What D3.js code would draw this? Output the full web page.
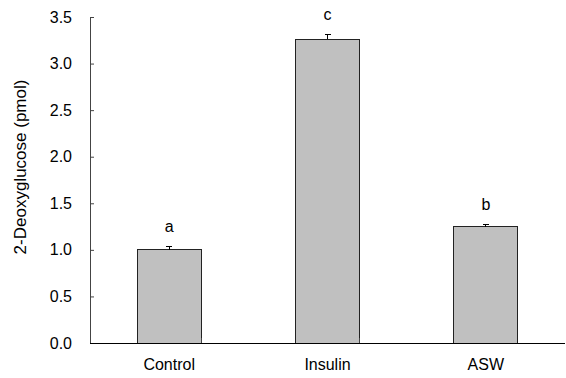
<!DOCTYPE html>
<html>
<head>
<meta charset="utf-8">
<script src="https://cdn.jsdelivr.net/npm/d3@7"></script>
<style>
  body { margin: 0; background: #fff; }
  text { font-family: 'Liberation Sans', Arial, sans-serif; fill: #000; }
</style>
</head>
<body>
<div id="chart"></div>
<script>
const categories = ['Control', 'Insulin', 'ASW']
const means = [1.0, 3.26, 1.25]
const errors = [0.04, 0.055, 0.027]
const letters = ['a', 'c', 'b']
const yTicks = [0, 0.5, 1.0, 1.5, 2.0, 2.5, 3.0, 3.5]

const width = 566
const height = 378
const margin = { top: 17, right: 1, bottom: 35, left: 90 }
const innerW = width - margin.left - margin.right
const innerH = height - margin.top - margin.bottom

const svg = d3.select('#chart')
  .append('svg')
  .attr('width', width)
  .attr('height', height)

const g = svg.append('g')
  .attr('transform', `translate(${margin.left}, ${margin.top})`)

const x = d3.scaleBand(categories, [0, innerW]).paddingInner(0.595).paddingOuter(0.2975)
const y = d3.scaleLinear([0, 3.5], [innerH, 0])

// bars
g.selectAll('rect.bar')
  .data(categories)
  .enter()
  .append('rect')
  .attr('class', 'bar')
  .attr('x', d => x(d))
  .attr('y', (d, i) => y(means[i]))
  .attr('width', x.bandwidth())
  .attr('height', (d, i) => innerH - y(means[i]))
  .attr('fill', '#c0c0c0')
  .attr('stroke', '#222')
  .attr('stroke-width', 1)
  .style('shape-rendering', 'crispEdges')

// error bars (upper only)
const err = g.selectAll('g.err')
  .data(categories)
  .enter()
  .append('g')
  .attr('class', 'err')
  .attr('transform', d => `translate(${x(d) + x.bandwidth() / 2}, 0)`)

err.append('line')
  .attr('x1', 0).attr('x2', 0)
  .attr('y1', (d, i) => y(means[i]))
  .attr('y2', (d, i) => y(means[i] + errors[i]))
  .attr('stroke', '#000')
  .style('shape-rendering', 'crispEdges')

err.append('line')
  .attr('x1', -3).attr('x2', 3)
  .attr('y1', (d, i) => y(means[i] + errors[i]))
  .attr('y2', (d, i) => y(means[i] + errors[i]))
  .attr('stroke', '#000')
  .style('shape-rendering', 'crispEdges')

// significance letters
err.append('text')
  .attr('y', (d, i) => y(means[i] + errors[i]) - 14)
  .attr('text-anchor', 'middle')
  .style('font-size', '16px')
  .text((d, i) => letters[i])

// y axis
const yAxis = g.append('g')
  .call(d3.axisRight(y).tickValues(yTicks).tickFormat(d3.format('.1f')).tickSize(4).tickSizeOuter(0))
yAxis.select('.domain').attr('stroke', '#444')
yAxis.selectAll('.tick line').attr('stroke', '#444')
yAxis.selectAll('.tick text')
  .attr('x', -18)
  .attr('text-anchor', 'end')
  .style('font-size', '16px')
  .style('font-family', "'Liberation Sans', Arial, sans-serif")

// x axis
const xAxis = g.append('g')
  .attr('transform', `translate(0, ${innerH})`)
xAxis.append('line')
  .attr('x1', 0).attr('x2', innerW)
  .attr('stroke', '#000')
  .style('shape-rendering', 'crispEdges')
xAxis.selectAll('line.tick')
  .data([1, 2])
  .enter()
  .append('line')
  .attr('class', 'tick')
  .attr('x1', d => x.step() * d - x.step() * x.paddingInner() / 2)
  .attr('x2', d => x.step() * d - x.step() * x.paddingInner() / 2)
  .attr('y1', 0).attr('y2', -5)
  .attr('stroke', '#444')
  .style('shape-rendering', 'crispEdges')
xAxis.selectAll('text.cat')
  .data(categories)
  .enter()
  .append('text')
  .attr('class', 'cat')
  .attr('x', d => x(d) + x.bandwidth() / 2)
  .attr('y', 27)
  .attr('text-anchor', 'middle')
  .style('font-size', '16px')
  .text(d => d)

// y axis title
svg.append('text')
  .attr('transform', `translate(26, ${margin.top + innerH / 2 - 13}) rotate(-90)`)
  .attr('text-anchor', 'middle')
  .style('font-size', '17px')
  .text('2-Deoxyglucose (pmol)')
</script>
</body>
</html>
